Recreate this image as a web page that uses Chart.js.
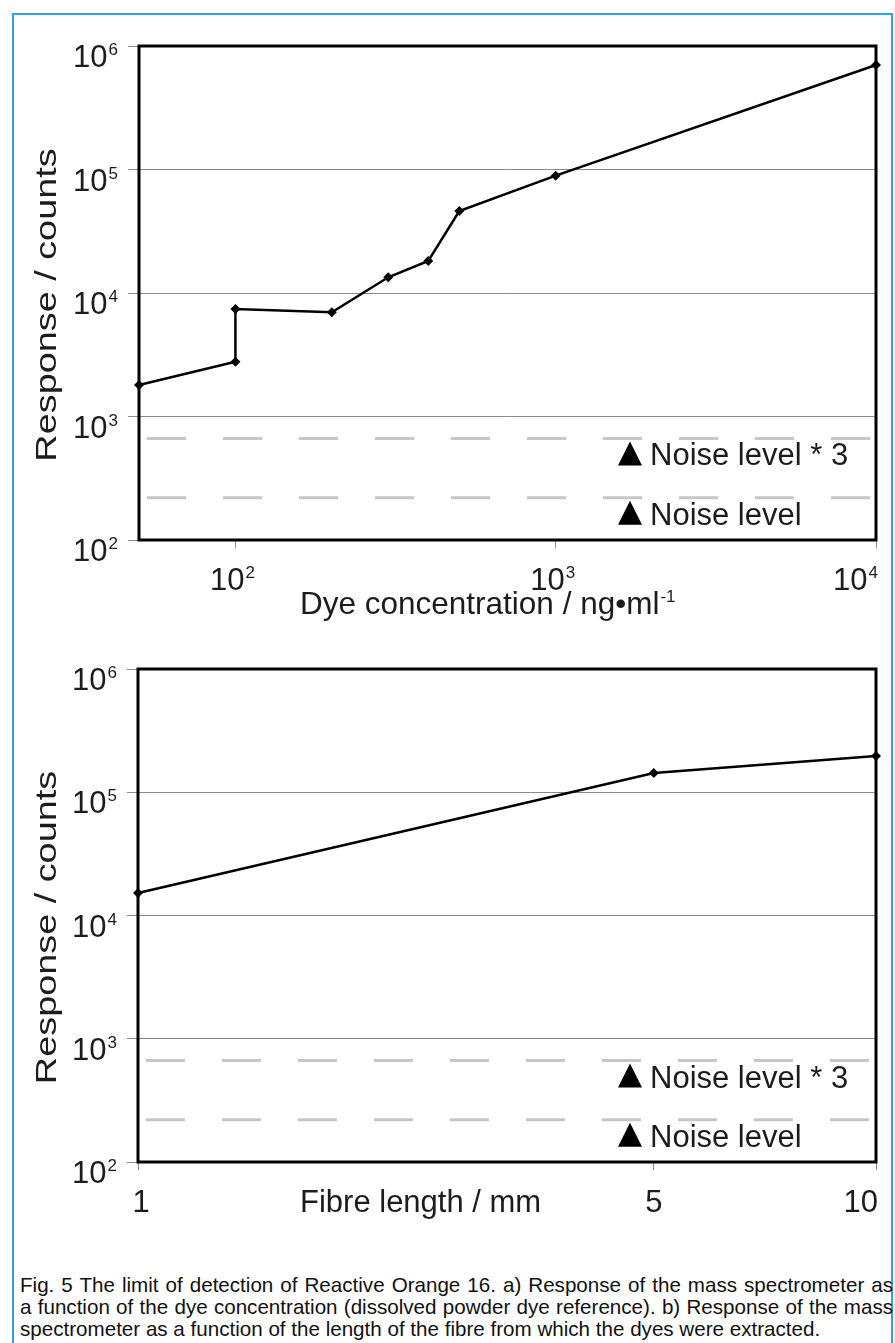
<!DOCTYPE html>
<html><head><meta charset="utf-8">
<script src="https://cdn.jsdelivr.net/npm/chart.js@4.4.1/dist/chart.umd.min.js"></script>
<style>
html,body{margin:0;padding:0;background:#fff;}
body{width:895px;height:1343px;position:relative;overflow:hidden;font-family:"Liberation Sans",Arial,sans-serif;}
#frame{position:absolute;left:12px;top:13px;width:877px;height:1340px;border:2px solid #2ea3e3;border-bottom:none;}
#wa{position:absolute;left:0;top:0;width:895px;height:640px;}
#wb{position:absolute;left:0;top:620px;width:895px;height:620px;}
#cap{position:absolute;left:20px;top:1274px;width:873px;font-size:20.6px;line-height:22px;color:#111;}
#cap div{text-align:justify;text-align-last:justify;white-space:nowrap;}
#cap div.last{text-align-last:left;}
</style></head>
<body>
<div id="frame"></div>
<div id="wa"><canvas id="ca" width="895" height="640"></canvas></div>
<div id="wb"><canvas id="cb" width="895" height="620"></canvas></div>
<div id="cap">
<div>Fig. 5 The limit of detection of Reactive Orange 16. a) Response of the mass spectrometer as</div>
<div>a function of the dye concentration (dissolved powder dye reference). b) Response of the mass</div>
<div class="last">spectrometer as a function of the length of the fibre from which the dyes were extracted.</div>
</div>
<script>
// ---- data ----
const concA = [50, 100, 100, 200, 300, 400, 500, 1000, 10000];
const respA = [1800, 2780, 7420, 6980, 13400, 18200, 46100, 89100, 702000];
const fibreB = [1, 5, 10];
const respB = [15200, 143000, 197000];
const noiseLevel = 220;
const noiseLevel3 = 665;
const yTickExps = [2, 3, 4, 5, 6];
const xTickExpsA = [2, 3, 4];
const xTicksB = [1, 5, 10];
const xRangeA = [50, 10000];
const xRangeB = [1, 10];
const yRange = [100, 1000000];
const yTitle = 'Response / counts';
const xTitleA = ['Dye concentration / ng\u2022ml', '-1'];
const xTitleB = 'Fibre length / mm';
const noiseLabels = ['Noise level * 3', 'Noise level'];

const FF = '"Liberation Sans", Arial, sans-serif';
const TXT = '#1c1c1c';
function font(px){ return px + 'px ' + FF; }

function drawPow(ctx, base, exp, x, baseline, align) {
  ctx.font = font(31);
  const wb = ctx.measureText(base).width;
  ctx.font = font(17);
  const ws = ctx.measureText(exp).width;
  const gap = 1;
  const total = wb + gap + ws;
  const left = align === 'right' ? x - total : align === 'center' ? x - total / 2 : x;
  ctx.textAlign = 'left'; ctx.textBaseline = 'alphabetic';
  ctx.fillStyle = TXT;
  ctx.font = font(31); ctx.fillText(base, left, baseline);
  ctx.font = font(17); ctx.fillText(exp, left + wb + gap, baseline - 12);
}

function makeChart(id, o) {
  const ctx = document.getElementById(id).getContext('2d');
  const decor = {
    id: 'decor' + id,
    beforeDatasetsDraw(chart) {
      const a = chart.chartArea, c = chart.ctx;
      c.save();
      c.strokeStyle = '#000'; c.lineWidth = 3;
      c.strokeRect(a.left, a.top, a.right - a.left, a.bottom - a.top);
      c.restore();
    },
    afterDraw(chart) {
      const a = chart.chartArea, c = chart.ctx;
      const ys = chart.scales.y, xs = chart.scales.x;
      c.save();
      yTickExps.forEach(e => {
        const py = ys.getPixelForValue(Math.pow(10, e));
        drawPow(c, '10', String(e), a.left - 21, py + 21, 'right');
      });
      o.drawXLabels(c, xs, a);
      // y title
      c.fillStyle = TXT; c.font = font(31);
      c.translate(48, (a.top + a.bottom) / 2 + 12);
      c.rotate(-Math.PI / 2);
      c.scale(1.22, 0.95);
      c.textAlign = 'center'; c.textBaseline = 'middle';
      c.fillText(yTitle, 0, 0);
      c.setTransform(1, 0, 0, 1, 0, 0);
      [noiseLevel3, noiseLevel].forEach((v, i) => {
        const bl = ys.getPixelForValue(v) + 27;
        const tx = a.right - 258;
        c.fillStyle = '#000';
        c.beginPath();
        c.moveTo(tx, bl); c.lineTo(tx + 24, bl); c.lineTo(tx + 12, bl - 24); c.closePath(); c.fill();
        c.fillStyle = TXT; c.font = font(31); c.textAlign = 'left'; c.textBaseline = 'alphabetic';
        c.fillText(noiseLabels[i], tx + 32, bl);
      });
      c.restore();
    }
  };
  const noiseDs = v => ({
    data: [{x: o.xRange[0], y: v}, {x: o.xRange[1], y: v}],
    borderColor: '#c6c6c6', borderWidth: 3, borderDash: [39, 37], borderDashOffset: 68,
    pointRadius: 0, clip: false, tension: 0
  });
  return new Chart(ctx, {
    type: 'line',
    data: {
      datasets: [
        { data: o.xs.map((x, i) => ({x: x, y: o.ys[i]})), borderColor: '#000', backgroundColor: '#000',
          borderWidth: 2.5, pointStyle: 'rectRot', pointRadius: 5, pointBorderWidth: 0, clip: false, tension: 0 },
        noiseDs(noiseLevel3), noiseDs(noiseLevel)
      ]
    },
    options: {
      responsive: false, animation: false, devicePixelRatio: 1,
      layout: { padding: o.padding },
      plugins: { legend: { display: false }, tooltip: { enabled: false } },
      events: [],
      scales: {
        x: { type: 'logarithmic', min: o.xRange[0], max: o.xRange[1],
             afterBuildTicks: s => { s.ticks = o.xTicks.map(v => ({value: v})); },
             afterFit: s => { s.height = o.xH; },
             ticks: { display: false },
             grid: { drawOnChartArea: false, drawTicks: true, tickLength: 8, tickColor: '#8c8c8c', lineWidth: 1 },
             border: { display: false } },
        y: { type: 'logarithmic', min: yRange[0], max: yRange[1],
             afterBuildTicks: s => { s.ticks = yTickExps.map(e => ({value: Math.pow(10, e)})); },
             afterFit: s => { s.width = o.yW; },
             ticks: { display: false },
             grid: { color: '#8a8a8a', lineWidth: 1, drawTicks: true, tickLength: 11, tickColor: '#8c8c8c' },
             border: { display: false } }
      }
    },
    plugins: [decor]
  });
}

makeChart('ca', {
  xs: concA, ys: respA, xRange: xRangeA, xTicks: xTickExpsA.map(e => Math.pow(10, e)),
  padding: { left: 0, top: 46, right: 19, bottom: 0 }, xH: 100, yW: 139,
  drawXLabels(c, xs, a) {
    xTickExpsA.forEach((e, i) => {
      const last = i === xTickExpsA.length - 1;
      const px = xs.getPixelForValue(Math.pow(10, e));
      drawPow(c, '10', String(e), last ? px + 2 : px - 3, a.bottom + 50, last ? 'right' : 'center');
    });
    c.fillStyle = TXT; c.font = font(31.5); c.textAlign = 'left'; c.textBaseline = 'alphabetic';
    const bx = 300, bl = a.bottom + 74;
    c.fillText(xTitleA[0], bx, bl);
    const w = c.measureText(xTitleA[0]).width;
    c.font = font(17);
    c.fillText(xTitleA[1], bx + w + 1, bl - 12);
  }
});

makeChart('cb', {
  xs: fibreB, ys: respB, xRange: xRangeB, xTicks: xTicksB,
  padding: { left: 0, top: 49, right: 19, bottom: 0 }, xH: 78, yW: 138,
  drawXLabels(c, xs, a) {
    c.fillStyle = TXT; c.font = font(31); c.textBaseline = 'alphabetic';
    xTicksB.forEach((v, i) => {
      const last = i === xTicksB.length - 1;
      const px = xs.getPixelForValue(v);
      c.textAlign = last ? 'right' : 'center';
      c.fillText(String(v), last ? px + 2 : px + (v === 1 ? 3 : 0), a.bottom + 50);
    });
    c.textAlign = 'left';
    c.fillText(xTitleB, 300, a.bottom + 50);
  }
});
</script>
</body></html>
